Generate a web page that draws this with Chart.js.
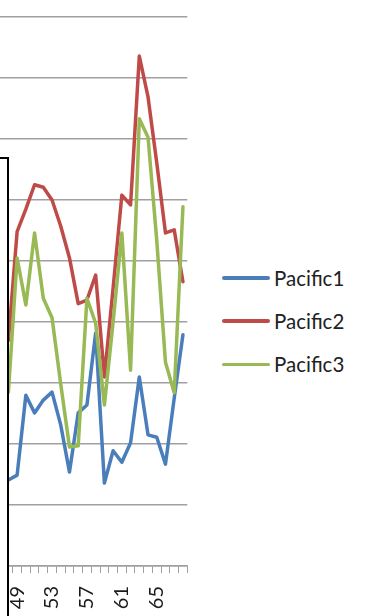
<!DOCTYPE html>
<html>
<head>
<meta charset="utf-8">
<script src="https://cdn.jsdelivr.net/npm/chart.js@4/dist/chart.umd.min.js"></script>
<style>
  html, body { margin: 0; padding: 0; background: #fff; width: 365px; height: 616px; overflow: hidden; }
  #plot { position: absolute; left: -10px; top: 0; width: 200px; height: 616px; }
  #frame {
    position: absolute; left: -10px; top: 157px; width: 19px; height: 480px;
    box-sizing: border-box; background: #fff;
    border-top: 2px solid #000; border-right: 2px solid #000;
  }
  #legend { position: absolute; left: 222px; top: 0; font-family: Lato, "Open Sans", sans-serif; font-size: 20.5px; color: #222; }
  .item { position: absolute; left: 0; height: 24px; display: flex; align-items: center; white-space: nowrap; }
  .swatch { width: 48px; height: 3.5px; border-radius: 2px; margin-right: 4px; }
</style>
</head>
<body>
<div id="plot"><canvas id="c"></canvas></div>
<div id="frame"></div>
<div id="legend"></div>
<script>
// Category axis (years); 47 is an empty leading slot
const categories = ['47','48','49','50','51','52','53','54','55','56','57','58','59','60','61','62','63','64','65','66','67','68'];
const tickLabels = ['49','53','57','61','65'];

const pacific1 = [null, 14.1, 14.9, 28.0, 25.1, 27.2, 28.5, 23.1, 15.4, 25.1, 26.4, 38.2, 13.6, 18.9, 17.0, 20.2, 31.0, 21.5, 21.1, 16.7, 27.5, 37.9];
const pacific2 = [null, 37.0, 54.8, 58.5, 62.5, 62.1, 60.0, 55.7, 50.5, 43.0, 43.6, 47.7, 31.0, 45.6, 60.8, 59.2, 83.6, 76.9, 66.1, 54.6, 55.1, 46.6];
const pacific3 = [null, 28.5, 50.5, 42.8, 54.6, 43.9, 40.7, 29.8, 19.5, 19.7, 43.9, 39.8, 26.4, 40.0, 54.6, 32.1, 73.3, 70.3, 53.4, 33.4, 28.4, 58.9];

const seriesNames = ['Pacific1', 'Pacific2', 'Pacific3'];
const seriesColors = ['#4A7EBB', '#BE4B48', '#98B954'];
const seriesData = [pacific1, pacific2, pacific3];

const GRID = '#a0a0a0';

const datasets = seriesNames.map((name, i) => ({
  label: name,
  data: seriesData[i],
  borderColor: seriesColors[i],
  backgroundColor: seriesColors[i],
  borderWidth: 3.5,
  borderJoinStyle: 'round',
  borderCapStyle: 'round',
  pointRadius: 0,
  tension: 0,
  fill: false,
  order: seriesNames.length - i
}));

new Chart(document.getElementById('c'), {
  type: 'line',
  data: { labels: categories, datasets },
  options: {
    responsive: true,
    maintainAspectRatio: false,
    animation: false,
    events: [],
    layout: { padding: { left: 5.3, right: 2.7, top: 17, bottom: 0 } },
    plugins: { legend: { display: false }, tooltip: { enabled: false } },
    scales: {
      x: {
        type: 'category',
        offset: true,
        grid: { display: true, drawOnChartArea: false, drawTicks: true, tickLength: 7, offset: true, color: GRID, lineWidth: 1 },
        border: { display: true, color: GRID, width: 1.5 },
        ticks: {
          autoSkip: false,
          minRotation: 90,
          maxRotation: 90,
          padding: 13,
          color: '#1a1a1a',
          font: { family: 'Lato', size: 20 },
          callback: function (v) {
            const lab = this.getLabelForValue(v);
            return tickLabels.includes(lab) ? lab : '';
          }
        },
        afterFit: (s) => { s.height = 50; s.paddingLeft = 0; s.paddingRight = 0; }
      },
      y: {
        min: 0,
        max: 90,
        ticks: { display: false, stepSize: 10 },
        grid: { color: GRID, lineWidth: 1.5, drawTicks: false },
        border: { display: false },
        afterFit: (s) => { s.width = 0; s.paddingTop = 0; s.paddingBottom = 0; }
      }
    }
  }
});

// Legend to the right of the plot
const legend = document.getElementById('legend');
seriesNames.forEach((name, i) => {
  const item = document.createElement('div');
  item.className = 'item';
  item.style.top = (278 - 12 + i * 43.2) + 'px';
  const sw = document.createElement('span');
  sw.className = 'swatch';
  sw.style.background = seriesColors[i];
  const tx = document.createElement('span');
  tx.textContent = name;
  item.appendChild(sw);
  item.appendChild(tx);
  legend.appendChild(item);
});
</script>
</body>
</html>
